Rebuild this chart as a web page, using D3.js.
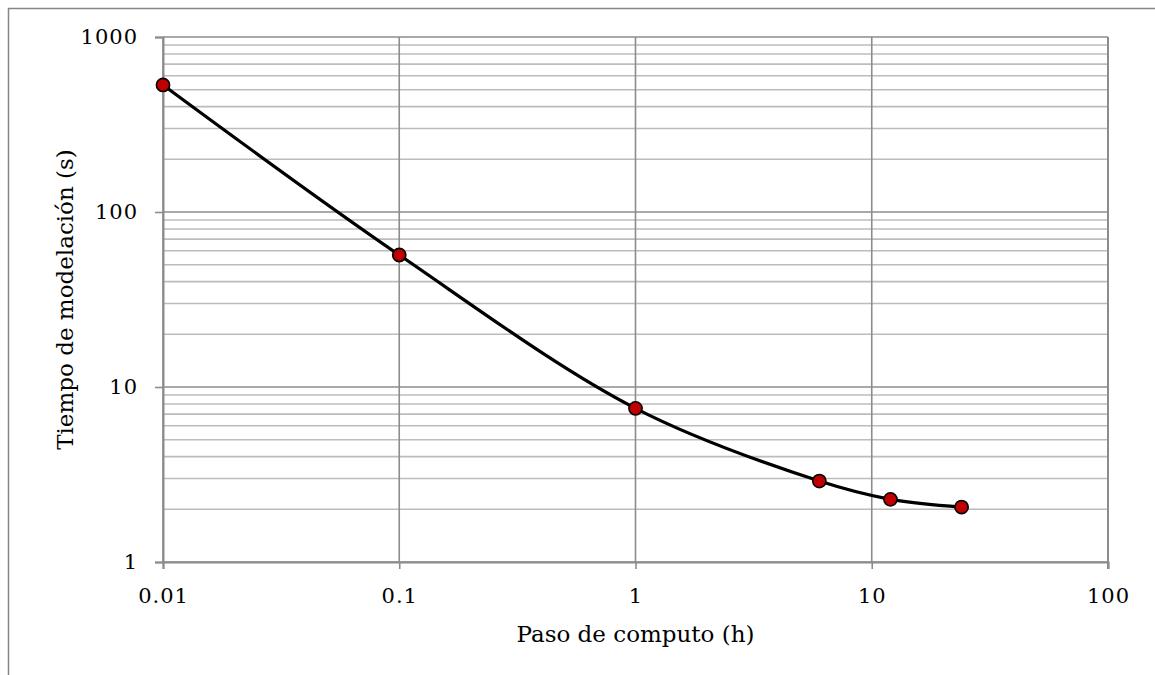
<!DOCTYPE html>
<html>
<head>
<meta charset="utf-8">
<script src="https://cdn.jsdelivr.net/npm/d3@7"></script>
<style>
  html, body { margin: 0; padding: 0; background: #fff; }
  svg { display: block; }
  text { font-family: "DejaVu Serif", "Liberation Serif", serif; fill: #000; }
</style>
</head>
<body>
<svg id="chart" width="1155" height="675"></svg>
<script>
// Computation step (h) vs. modelling time (s)
const pasoComputo = [0.01, 0.1, 1, 6, 12, 24];
const tiempoModelacion = [532, 56.8, 7.55, 2.9, 2.28, 2.06];

const xTicks = [0.01, 0.1, 1, 10, 100];
const xTickLabels = ["0.01", "0.1", "1", "10", "100"];
const yTicks = [1, 10, 100, 1000];
const yTickLabels = ["1", "10", "100", "1000"];

const xTitle = "Paso de computo (h)";
const yTitle = "Tiempo de modelación (s)";

const svg = d3.select("#chart");
const W = 1155, H = 675;
const plot = { left: 163, top: 37, right: 1108, bottom: 562 };

// chart frame (only top and left edges fall inside the view)
svg.append("rect")
  .attr("x", 8.5).attr("y", 8.5)
  .attr("width", W + 20).attr("height", H + 20)
  .attr("fill", "none").attr("stroke", "#868686").attr("stroke-width", 1.5);

const x = d3.scaleLog().domain([0.01, 100]).range([plot.left, plot.right]);
const y = d3.scaleLog().domain([1, 1000]).range([plot.bottom, plot.top]);

// minor horizontal gridlines (2..9 within each decade)
const minorY = [];
for (let d = 1; d < 1000; d *= 10) {
  for (let k = 2; k <= 9; k++) minorY.push(d * k);
}
svg.append("g").selectAll("line").data(minorY).join("line")
  .attr("x1", plot.left).attr("x2", plot.right)
  .attr("y1", d => y(d)).attr("y2", d => y(d))
  .attr("stroke", "#bcbcbc").attr("stroke-width", 1.6);

// major gridlines
svg.append("g").selectAll("line").data(yTicks).join("line")
  .attr("x1", plot.left).attr("x2", plot.right)
  .attr("y1", d => y(d)).attr("y2", d => y(d))
  .attr("stroke", "#8c8c8c").attr("stroke-width", 1.6);
svg.append("g").selectAll("line").data(xTicks).join("line")
  .attr("y1", plot.top).attr("y2", plot.bottom)
  .attr("x1", d => x(d)).attr("x2", d => x(d))
  .attr("stroke", "#8c8c8c").attr("stroke-width", 1.6);

// axes
const xAxis = d3.axisBottom(x).tickValues(xTicks)
  .tickFormat((d, i) => xTickLabels[i]).tickSize(7).tickPadding(19);
const gx = svg.append("g").attr("transform", `translate(0,${plot.bottom})`).call(xAxis);
gx.select(".domain").attr("stroke", "#8c8c8c").attr("stroke-width", 2);
gx.selectAll(".tick line").attr("stroke", "#8c8c8c").attr("stroke-width", 1.6);
gx.selectAll("text").attr("font-size", 21).attr("letter-spacing", 1)
  .attr("font-family", "DejaVu Serif").attr("fill", "#000");

const yAxis = d3.axisLeft(y).tickValues(yTicks)
  .tickFormat((d, i) => yTickLabels[i]).tickSize(8).tickPadding(17);
const gy = svg.append("g").attr("transform", `translate(${plot.left},0)`).call(yAxis);
gy.select(".domain").attr("stroke", "#8c8c8c").attr("stroke-width", 2);
gy.selectAll(".tick line").attr("stroke", "#8c8c8c").attr("stroke-width", 1.6);
gy.selectAll("text").attr("font-size", 21).attr("letter-spacing", 1)
  .attr("font-family", "DejaVu Serif").attr("fill", "#000");

// right edge of plot area
svg.append("line")
  .attr("x1", plot.right).attr("x2", plot.right)
  .attr("y1", plot.top).attr("y2", plot.bottom + 7)
  .attr("stroke", "#8c8c8c").attr("stroke-width", 2);

// smoothed series line
const pts = pasoComputo.map((v, i) => [v, tiempoModelacion[i]]);
const line = d3.line().x(d => x(d[0])).y(d => y(d[1])).curve(d3.curveCatmullRom.alpha(0.5));
svg.append("path").datum(pts)
  .attr("d", line).attr("fill", "none")
  .attr("stroke", "#000").attr("stroke-width", 3.2);

// markers
svg.append("g").selectAll("circle").data(pts).join("circle")
  .attr("cx", d => x(d[0])).attr("cy", d => y(d[1])).attr("r", 6.6)
  .attr("fill", "#c00000").attr("stroke", "#000").attr("stroke-width", 1.6);

// axis titles
svg.append("text")
  .attr("x", (plot.left + plot.right) / 2).attr("y", 642)
  .attr("text-anchor", "middle").attr("font-size", 23)
  .text(xTitle);
svg.append("text")
  .attr("transform", `translate(73,${(plot.top + plot.bottom) / 2}) rotate(-90)`)
  .attr("text-anchor", "middle").attr("font-size", 23)
  .text(yTitle);
</script>
</body>
</html>
